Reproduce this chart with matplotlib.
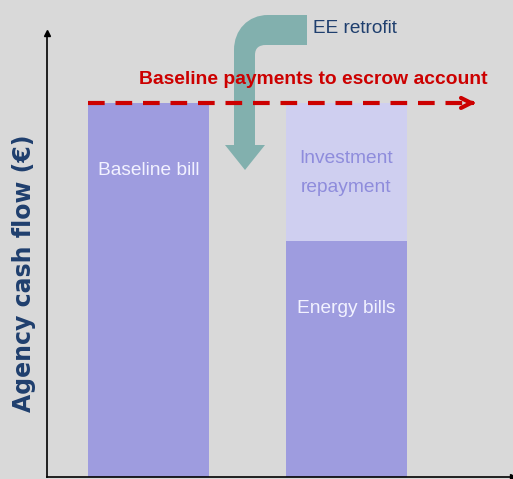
import matplotlib.pyplot as plt
from matplotlib.path import Path
from matplotlib.patches import PathPatch

# chart values (relative units, baseline = 100)
categories = ['Baseline', 'After retrofit']
baseline_bill = [100, 0]
energy_bills = [0, 63]
investment_repayment = [0, 37]
baseline_level = 100

W, H = 513, 479
BG = '#d9d9d9'
BAR_DARK = '#9e9cdf'
BAR_LIGHT = '#cfcff0'
RED = '#cc0000'
NAVY = '#1f3f6e'
TEAL = '#82b0ae'
FONT = ['Liberation Sans', 'DejaVu Sans']

fig = plt.figure(figsize=(W / 100, H / 100), dpi=100, facecolor=BG)

# overlay in pixel coordinates for the bent retrofit arrow (drawn beneath the chart)
ov = fig.add_axes([0, 0, 1, 1], facecolor='none', zorder=0)
ov.set_xlim(0, W)
ov.set_ylim(H, 0)
ov.axis('off')

verts = [
    (307, 15), (268, 15),
    (248, 15), (234, 30), (234, 50),
    (234, 145), (225, 145), (245, 170), (265, 145), (255, 145),
    (255, 55), (255, 48), (259, 45), (266, 45),
    (307, 45), (307, 15),
]
codes = [
    Path.MOVETO, Path.LINETO,
    Path.CURVE4, Path.CURVE4, Path.CURVE4,
    Path.LINETO, Path.LINETO, Path.LINETO, Path.LINETO, Path.LINETO,
    Path.LINETO, Path.CURVE4, Path.CURVE4, Path.CURVE4,
    Path.LINETO, Path.CLOSEPOLY,
]
ov.add_patch(PathPatch(Path(verts, codes), facecolor=TEAL, edgecolor='none'))
ov.text(313, 28, 'EE retrofit', ha='left', va='center', color=NAVY, fontsize=13.7, family=FONT)

# main axes in pixel layout: y axis at x=47, x axis at y=477, arrow tip at y=33
ax = fig.add_axes([47 / W, 2 / H, (W - 47) / W, (477 - 33) / H], zorder=1)
ax.set_facecolor('none')
x = [0, 1]
width = 0.614
ax.bar(x, baseline_bill, width, color=BAR_DARK, linewidth=0)
ax.bar(x, energy_bills, width, color=BAR_DARK, linewidth=0)
ax.bar(x, investment_repayment, width, bottom=energy_bills, color=BAR_LIGHT, linewidth=0)
ax.set_xlim(-0.515, 1.845)
ax.set_ylim(0, 118.7)

for side in ['top', 'right']:
    ax.spines[side].set_visible(False)
ax.spines['left'].set_linewidth(1.2)
ax.spines['bottom'].set_linewidth(1.2)
ax.set_xticks([])
ax.set_yticks([])
ax.plot(0, 1, marker='^', color='black', markersize=5, transform=ax.transAxes, clip_on=False)
ax.plot(1, 0, marker='>', color='black', markersize=4, transform=ax.transAxes, clip_on=False)

# bar labels
ax.text(0, 82, 'Baseline bill', ha='center', va='center', color='#f2f2ff', fontsize=13.8, family=FONT)
ax.text(1, 81.2, 'Investment\nrepayment', ha='center', va='center', color='#8e8cdc',
        fontsize=13.8, family=FONT, linespacing=1.95)
ax.text(1, 45.0, 'Energy bills', ha='center', va='center', color='#f2f2ff', fontsize=13.8, family=FONT)

# baseline dashed arrow
x_end = 1.64
ax.plot([-width / 2, x_end], [baseline_level, baseline_level], color=RED, lw=3,
        dashes=(4, 2.6), clip_on=False)
ax.annotate('', xy=(x_end + 0.03, baseline_level), xytext=(x_end - 0.02, baseline_level),
            arrowprops=dict(arrowstyle='->', color=RED, lw=3, mutation_scale=18))
ax.text(0.835, 106.3, 'Baseline payments to escrow account', ha='center', va='center',
        color=RED, fontsize=13.9, fontweight='bold', family=FONT)

ax.set_ylabel('Agency cash flow (€)', fontsize=17, fontweight='bold', color=NAVY, va='center')
ax.yaxis.set_label_coords(-0.05, 0.459)

fig.savefig('out.png', dpi=100, facecolor=BG)
